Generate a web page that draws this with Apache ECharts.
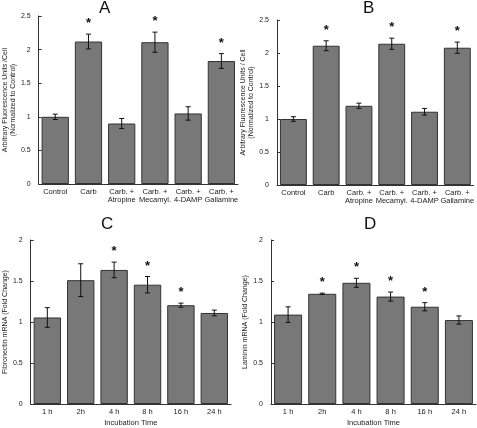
<!DOCTYPE html>
<html>
<head>
<meta charset="utf-8">
<script src="https://cdn.jsdelivr.net/npm/echarts@6/dist/echarts.min.js"></script>
<style>html,body{margin:0;padding:0;background:#fff}#c{width:477px;height:428px}</style>
</head>
<body>
<div id="c"></div>
<script>
const catsAB = ['Control', 'Carb', 'Carb. +\nAtropine', 'Carb. +\nMecamyl.', 'Carb. +\n4-DAMP', 'Carb. +\nGallamine'];
const valsA = [1.0, 2.12, 0.90, 2.11, 1.05, 1.83];
const errA = [0.04, 0.11, 0.075, 0.15, 0.10, 0.11];
const sigA = [0, 1, 0, 1, 0, 1];
const valsB = [1.0, 2.11, 1.20, 2.14, 1.11, 2.08];
const errB = [0.035, 0.075, 0.04, 0.085, 0.05, 0.085];
const sigB = [0, 1, 0, 1, 0, 1];
const catsCD = ['1 h', '2h', '4 h', '8 h', '16 h', '24 h'];
const valsC = [1.055, 1.51, 1.635, 1.455, 1.205, 1.11];
const errC = [0.12, 0.20, 0.095, 0.10, 0.025, 0.035];
const sigC = [0, 0, 1, 1, 1, 0];
const valsD = [1.09, 1.344, 1.478, 1.31, 1.186, 1.024];
const errD = [0.095, 0.008, 0.055, 0.055, 0.05, 0.05];
const sigD = [0, 1, 1, 1, 1, 0];
const yMaxAB = 2.5, yMaxCD = 2;

const FONT = 'Liberation Sans, Arial, sans-serif';
const TXT = '#222';

const panels = [
  {title: 'A', cats: catsAB, vals: valsA, errs: errA, sig: sigA, max: yMaxAB,
   grid: {left: 32, top: 16, width: 206, height: 168},
   yName: 'Arbitrary Fluorescence Units /Cell\n(Normalized to Control)', yGap: 16, xName: '', tx: 105, ty: 0},
  {title: 'B', cats: catsAB, vals: valsB, errs: errB, sig: sigB, max: yMaxAB,
   grid: {left: 277, top: 20, width: 199, height: 165},
   yName: 'Arbitrary Fluorescence Units / Cell\n(Normalized to Control)', yGap: 19, xName: '', tx: 369, ty: 0},
  {title: 'C', cats: catsCD, vals: valsC, errs: errC, sig: sigC, max: yMaxCD,
   grid: {left: 26, top: 240, width: 205, height: 169},
   yName: 'Fibronectin mRNA (Fold Change)', yGap: 19, xName: 'Incubation Time', tx: 107, ty: 216},
  {title: 'D', cats: catsCD, vals: valsD, errs: errD, sig: sigD, max: yMaxCD,
   grid: {left: 271, top: 240, width: 205, height: 169},
   yName: 'Laminin mRNA (Fold Change)', yGap: 21, xName: 'Incubation Time', tx: 370, ty: 216}
];

function errRender(params, api) {
  const x = api.value(0), v = api.value(1), e = api.value(2), s = api.value(3);
  const top = api.coord([x, v + e]);
  const bot = api.coord([x, v - e]);
  const cap = 2.5;
  const st = {stroke: '#111', lineWidth: 1};
  const children = [
    {type: 'line', shape: {x1: top[0], y1: top[1], x2: bot[0], y2: bot[1]}, style: st},
    {type: 'line', shape: {x1: top[0] - cap, y1: top[1], x2: top[0] + cap, y2: top[1]}, style: st},
    {type: 'line', shape: {x1: bot[0] - cap, y1: bot[1], x2: bot[0] + cap, y2: bot[1]}, style: st}
  ];
  if (s) {
    children.push({type: 'text', style: {text: '*', x: top[0], y: top[1] - 4, textAlign: 'center', textVerticalAlign: 'bottom',
      font: 'bold 13px ' + FONT, fill: '#111'}});
  }
  return {type: 'group', children: children};
}

const option = {
  animation: false,
  backgroundColor: '#fff',
  textStyle: {fontFamily: FONT},
  grid: panels.map(p => Object.assign({containLabel: false}, p.grid)),
  graphic: panels.map(p => ({type: 'text', left: p.tx - 6, top: p.ty,
    style: {text: p.title, font: '17px ' + FONT, fill: '#111'}})),
  xAxis: panels.map((p, i) => ({
    type: 'category', gridIndex: i, data: p.cats,
    name: p.xName, nameLocation: 'middle', nameGap: 15,
    nameTextStyle: {fontSize: 7.5, color: TXT, fontFamily: FONT},
    axisLine: {lineStyle: {color: '#333', width: 1}},
    axisTick: {inside: true, length: 3, lineStyle: {color: '#333'}},
    axisLabel: {fontSize: 7.5, color: TXT, margin: 4, lineHeight: 8, interval: 0, fontFamily: FONT}
  })),
  yAxis: panels.map((p, i) => ({
    type: 'value', gridIndex: i, min: 0, max: p.max, interval: 0.5,
    name: p.yName, nameLocation: 'middle', nameRotate: 90, nameGap: p.yGap,
    nameTextStyle: {fontSize: 7, color: TXT, lineHeight: 8, fontFamily: FONT},
    splitLine: {show: false},
    axisLine: {show: true, lineStyle: {color: '#333', width: 1}},
    axisTick: {show: true, inside: true, length: 3, lineStyle: {color: '#333'}},
    axisLabel: {fontSize: 7, color: TXT, margin: 8, fontFamily: FONT}
  })),
  series: panels.flatMap((p, i) => [
    {type: 'bar', xAxisIndex: i, yAxisIndex: i, data: p.vals, barCategoryGap: '18%',
     itemStyle: {color: '#787878', borderColor: '#333', borderWidth: 1}, silent: true},
    {type: 'custom', xAxisIndex: i, yAxisIndex: i, renderItem: errRender, z: 5,
     data: p.cats.map((c, j) => [j, p.vals[j], p.errs[j], p.sig[j]]), encode: {x: 0, y: 1}, silent: true}
  ])
};

const chart = echarts.init(document.getElementById('c'), null, {renderer: 'canvas'});
chart.setOption(option);
</script>
</body>
</html>
